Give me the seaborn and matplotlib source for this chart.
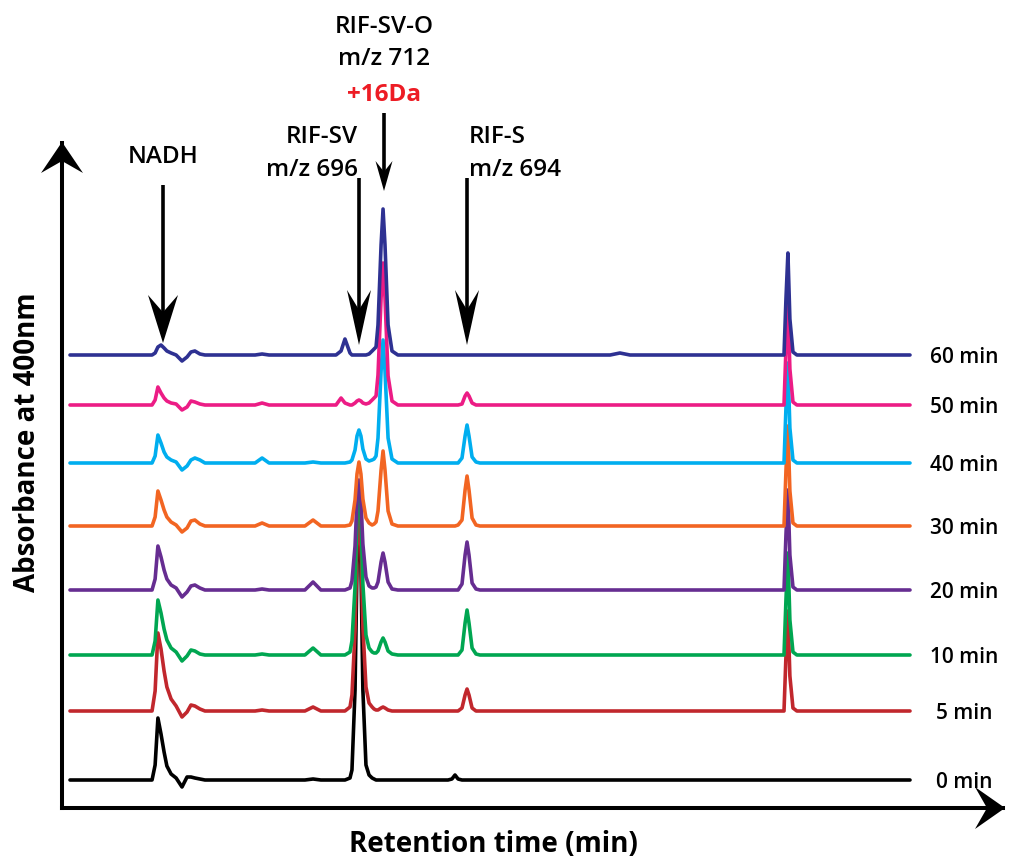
import pandas as pd
import matplotlib
matplotlib.use("Agg")
import matplotlib.pyplot as plt
import seaborn as sns
from matplotlib.patches import Polygon

sns.set_style("white")
plt.rcParams["font.family"] = ["Open Sans", "DejaVu Sans"]
plt.rcParams["text.color"] = "black"

# retention time grid (min), shared by all runs
time_min = [0.0,
            2.93, 3.04, 3.14, 3.25, 3.36, 3.46, 3.61, 3.79, 4.0, 4.18, 4.32, 4.46, 4.64, 4.82,
            6.61, 6.86, 7.11,
            8.39, 8.68, 8.96,
            9.5, 9.68, 9.82, 10.0, 10.07, 10.18, 10.25, 10.32, 10.39, 10.46, 10.57,
            10.68, 10.79, 10.86, 10.93, 11.0, 11.11, 11.18, 11.25, 11.36, 11.5, 11.71,
            13.5, 13.64, 13.75, 13.86, 14.0, 14.11, 14.18, 14.25, 14.36, 14.5, 14.64,
            19.29, 19.64, 20.0,
            25.5, 25.57, 25.64, 25.71, 25.82, 25.96,
            30.0]

# absorbance at 400 nm for each incubation time (baseline = 0)
abs_0min = [0,
            0, 15, 62, 46, 28, 14, 6, 2, -7, 3, 3, 2, 1, 0,
            0, 0, 0,
            0, 1, 0,
            0, 0, 0, 2, 10, 90, 215, 270, 215, 90, 15, 5, 2, 1, 0, 0, 0, 0, 0, 0, 0, 0,
            0, 1, 5, 1, 0, 0, 0, 0, 0, 0, 0,
            0, 0, 0,
            0, 0, 0, 0, 0, 0,
            0]
abs_5min = [0,
            0, 20, 78, 62, 40, 24, 12, 5, -6, -1, 6, 5, 2, 0,
            0, 1, 0,
            0, 4, 0,
            0, 0, 0, 4, 16, 80, 164, 200, 164, 84, 24, 8, 4, 2, 1, 1, 3, 4, 3, 1, 0, 0,
            0, 0, 0, 0, 3, 16, 22, 16, 3, 0, 0,
            0, 0, 0,
            0, 55, 100, 35, 3, 0,
            0]
abs_10min = [0,
             0, 14, 55, 42, 26, 15, 7, 3, -6, -1, 5, 4, 1, 0,
             0, 1, 0,
             0, 7, 0,
             0, 0, 0, 3, 14, 68, 139, 170, 139, 71, 20, 7, 3, 2, 2, 4, 13, 17, 13, 4, 1, 0,
             0, 0, 0, 0, 5, 32, 45, 32, 7, 1, 0,
             0, 0, 0,
             0, 55, 102, 35, 3, 0,
             0]
abs_20min = [0,
             0, 11, 44, 33, 20, 11, 5, 2, -7, -2, 4, 5, 2, 0,
             0, 1, 0,
             0, 8, 0,
             0, 0, 0, 2, 9, 44, 90, 110, 90, 46, 13, 4, 2, 2, 3, 8, 28, 37, 28, 8, 1, 0,
             0, 0, 0, 0, 6, 35, 48, 35, 7, 1, 0,
             0, 0, 0,
             0, 55, 100, 35, 3, 0,
             0]
abs_30min = [0,
             0, 9, 35, 26, 16, 9, 4, 1, -6, -2, 5, 6, 2, 0,
             0, 3, 0,
             0, 6, 0,
             0, 0, 0, 1, 5, 26, 52, 64, 52, 27, 8, 3, 1, 2, 4, 15, 56, 75, 56, 15, 2, 0,
             0, 0, 0, 1, 6, 36, 50, 36, 8, 1, 0,
             0, 0, 0,
             0, 55, 100, 35, 3, 0,
             0]
abs_40min = [0,
             0, 7, 28, 20, 11, 6, 3, 1, -7, -3, 3, 5, 3, 0,
             0, 5, 0,
             0, 1, 0,
             0, 0, 0, 1, 3, 13, 27, 33, 27, 14, 4, 2, 3, 4, 7, 25, 92, 123, 92, 25, 4, 0,
             0, 0, 0, 0, 5, 27, 38, 27, 6, 1, 0,
             0, 0, 0,
             0, 55, 100, 35, 3, 0,
             0]
abs_50min = [0,
             0, 5, 18, 12, 7, 4, 2, 1, -5, -2, 4, 3, 1, 0,
             0, 2, 0,
             0, 0, 0,
             0, 7, 2, 0, 0, 2, 4, 5, 4, 2, 1, 2, 5, 7, 9, 30, 107, 142, 107, 29, 4, 0,
             0, 0, 0, 0, 1, 9, 12, 9, 2, 0, 0,
             0, 0, 0,
             0, 56, 103, 36, 3, 0,
             0]
abs_60min = [0,
             0, 2, 8, 10, 7, 4, 2, 0, -6, -2, 3, 4, 1, 0,
             0, 1, 0,
             0, 0, 0,
             0, 4, 16, 2, 0, 0, 0, 0, 0, 0, 0, 1, 4, 6, 8, 30, 110, 146, 110, 30, 4, 0,
             0, 0, 0, 0, 0, 0, 0, 0, 0, 0, 0,
             0, 2, 0,
             0, 56, 102, 36, 3, 0,
             0]

runs = ["0 min", "5 min", "10 min", "20 min", "30 min", "40 min", "50 min", "60 min"]
signals = [abs_0min, abs_5min, abs_10min, abs_20min, abs_30min, abs_40min, abs_50min, abs_60min]
stack_offset = [28, 97, 153, 218, 282, 345, 403, 453]
colors = ["#000000", "#c1272d", "#00a651", "#662d91", "#f26522", "#00aeef", "#ec1c85", "#2e3192"]

rows = []
for run, off, sig in zip(runs, stack_offset, signals):
    for t, a in zip(time_min, sig):
        rows.append({"run": run, "time": t, "signal": a + off})
df = pd.DataFrame(rows)

fig = plt.figure(figsize=(10.14, 8.6), dpi=100)
ax = fig.add_axes([62 / 1014, 52 / 860, 941 / 1014, 665 / 860])

sns.lineplot(data=df, x="time", y="signal", hue="run", hue_order=runs,
             palette=colors, legend=False, linewidth=2.6, estimator=None,
             ax=ax, solid_joinstyle="round", solid_capstyle="round")

ax.set_xlim(-8 / 28, 933 / 28)
ax.set_ylim(0, 665)
ax.set_xticks([])
ax.set_yticks([])
ax.set_xlabel("")
ax.set_ylabel("")
for s in ["top", "right"]:
    ax.spines[s].set_visible(False)
for s in ["left", "bottom"]:
    ax.spines[s].set_linewidth(2.9)
    ax.spines[s].set_color("black")


# pixel helpers for the decorations
def tx(px):
    return (px - 70) / 28


def ty(py):
    return 808 - py


def head(pts):
    ax.add_patch(Polygon([(tx(a), ty(b)) for a, b in pts], closed=True,
                         color="black", clip_on=False, zorder=6, lw=0))


# axis arrowheads
head([(62, 142), (41, 173), (62, 161), (83, 173)])
head([(1005, 808), (975, 787), (987, 808), (975, 829)])


def down_arrow(x, top, tip, length, width):
    notch = tip - length * 0.64
    ax.plot([tx(x), tx(x)], [ty(top), ty(notch + 2)], color="black", lw=2.6,
            clip_on=False, solid_capstyle="butt", zorder=6)
    head([(x, tip), (x - width / 2, tip - length), (x, notch), (x + width / 2, tip - length)])


down_arrow(163, 185, 343, 48, 30)
down_arrow(359, 178, 345, 55, 24)
down_arrow(384, 113, 191, 30, 17)
down_arrow(467, 178, 345, 55, 24)

fs = 17.5
fw = "semibold"
ax.text(tx(163), ty(163), "NADH", ha="center", va="baseline", fontsize=fs, fontweight=fw)
ax.text(tx(358), ty(143), "RIF-SV", ha="right", va="baseline", fontsize=fs, fontweight=fw)
ax.text(tx(358), ty(176), "m/z 696", ha="right", va="baseline", fontsize=fs, fontweight=fw)
ax.text(tx(384), ty(33), "RIF-SV-O", ha="center", va="baseline", fontsize=fs, fontweight=fw)
ax.text(tx(384), ty(65), "m/z 712", ha="center", va="baseline", fontsize=fs, fontweight=fw)
ax.text(tx(384), ty(101), "+16Da", ha="center", va="baseline", fontsize=fs,
        fontweight="bold", color="#ed1c24")
ax.text(tx(469), ty(143), "RIF-S", ha="left", va="baseline", fontsize=fs, fontweight=fw)
ax.text(tx(469), ty(176), "m/z 694", ha="left", va="baseline", fontsize=fs, fontweight=fw)

for run, off in zip(runs, stack_offset):
    ax.text(tx(964), off - 8, run, ha="center", va="baseline", fontsize=15,
            fontweight="semibold")

fig.text(28 / 1014, 1 - 442 / 860, "Absorbance at 400nm", rotation=90,
         ha="center", va="center", fontsize=20, fontweight="bold")
fig.text(493 / 1014, 1 - 845 / 860, "Retention time (min)", ha="center",
         va="center", fontsize=20, fontweight="bold")

fig.savefig("out.png", dpi=100)
